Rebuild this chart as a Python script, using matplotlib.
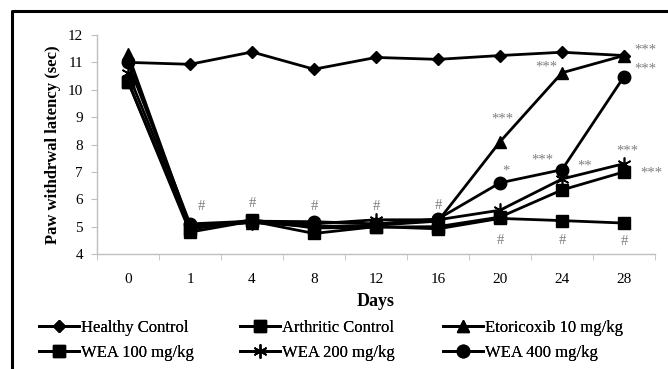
import matplotlib.pyplot as plt
from matplotlib.lines import Line2D

plt.rcParams['font.family'] = ['Liberation Serif', 'DejaVu Serif']

days = ['0', '1', '4', '8', '12', '16', '20', '24', '28']

healthy = [11.0, 10.93, 11.38, 10.75, 11.18, 11.11, 11.25, 11.37, 11.25]
arthritic = [10.3, 4.8, 5.2, 4.75, 5.0, 4.92, 5.3, 5.22, 5.13]
etoricoxib = [11.3, 5.0, 5.15, 5.0, 5.05, 5.2, 8.1, 10.62, 11.25]
wea100 = [10.3, 4.9, 5.25, 4.95, 4.98, 5.0, 5.35, 6.34, 7.0]
wea200 = [10.6, 5.05, 5.15, 5.1, 5.25, 5.25, 5.6, 6.74, 7.3]
wea400 = [11.0, 5.1, 5.2, 5.18, 5.1, 5.28, 6.6, 7.08, 10.48]

# significance marks: (x position in category units, y value, text)
hash_marks = [(1.18, 5.72), (2, 5.86), (3, 5.72), (4, 5.72), (5, 5.78),
              (6, 4.48), (7, 4.5), (8, 4.45)]
star_marks = [(8.35, 11.45, '***'), (8.34, 10.76, '***'), (6.74, 10.84, '***'),
              (6.03, 8.93, '***'), (6.1, 7.04, '*'), (6.69, 7.43, '***'),
              (7.36, 7.23, '**'), (8.05, 7.77, '***'), (8.44, 6.96, '***')]

fig = plt.figure(figsize=(6.68, 3.69), dpi=100)
ax = fig.add_axes([97 / 668, 1 - 254 / 369, (655 - 97) / 668, (254 - 35) / 369])

x = range(len(days))
lw = 2.0
h_healthy, = ax.plot(x, healthy, color='black', lw=lw, marker='D', ms=6, label='Healthy Control')
h_arth, = ax.plot(x, arthritic, color='black', lw=lw, marker='s', ms=8.5, label='Arthritic Control')
h_eto, = ax.plot(x, etoricoxib, color='black', lw=lw, marker='^', ms=9, label='Etoricoxib 10 mg/kg')
h_100, = ax.plot(x, wea100, color='black', lw=lw, marker='s', ms=8.5, label='WEA 100 mg/kg')
h_200, = ax.plot(x, wea200, color='black', lw=lw, marker=(6, 2, 0), ms=10, mew=1.2,
                 label='WEA 200 mg/kg')
h_400, = ax.plot(x, wea400, color='black', lw=lw, marker='o', ms=9, label='WEA 400 mg/kg')

for hx, hy in hash_marks:
    ax.text(hx, hy, '#', color='#7f7f7f', fontsize=10.5, ha='center', va='center')
for sx, sy, s in star_marks:
    ax.text(sx, sy, s, color='#7f7f7f', fontsize=10.5, ha='center', va='center')

ax.set_xlim(-0.5, 8.5)
ax.set_ylim(4, 12)
ax.set_xticks(list(x))
ax.set_xticklabels(days)
ax.set_xticks([i - 0.5 for i in range(10)], minor=True)
ax.set_yticks(range(4, 13))
ax.tick_params(axis='x', which='major', length=0, pad=14, labelsize=11)
ax.tick_params(axis='x', which='minor', length=4, color='#bfbfbf')
ax.tick_params(axis='y', length=4, color='#bfbfbf', labelsize=11, pad=6)
for side in ['top', 'right']:
    ax.spines[side].set_visible(False)
for side in ['left', 'bottom']:
    ax.spines[side].set_color('#bfbfbf')
    ax.spines[side].set_linewidth(1.0)

ax.set_xlabel('Days', fontsize=13, fontweight='bold', labelpad=5)
ax.set_ylabel('Paw withdrwal latency (sec)', fontsize=12, fontweight='bold', labelpad=5)

# legend laid out as three columns, two rows
cols = [(39, [h_healthy, h_100]), (240, [h_arth, h_200]), (443, [h_eto, h_400])]
for cx, hs in cols:
    leg = fig.legend(handles=hs, loc='upper left', bbox_to_anchor=(cx / 668, 1 - 320 / 369),
                     frameon=False, fontsize=12, handlelength=2.4, handletextpad=0.1,
                     borderpad=0, borderaxespad=0, labelspacing=0.55)
    fig.add_artist(leg)

# outer frame (left and top edges visible)
fig.add_artist(Line2D([12 / 668, 12 / 668, 1], [0, 1 - 11 / 369, 1 - 11 / 369],
                      transform=fig.transFigure, color='black', lw=2.2))

fig.savefig('out.png', dpi=100)
